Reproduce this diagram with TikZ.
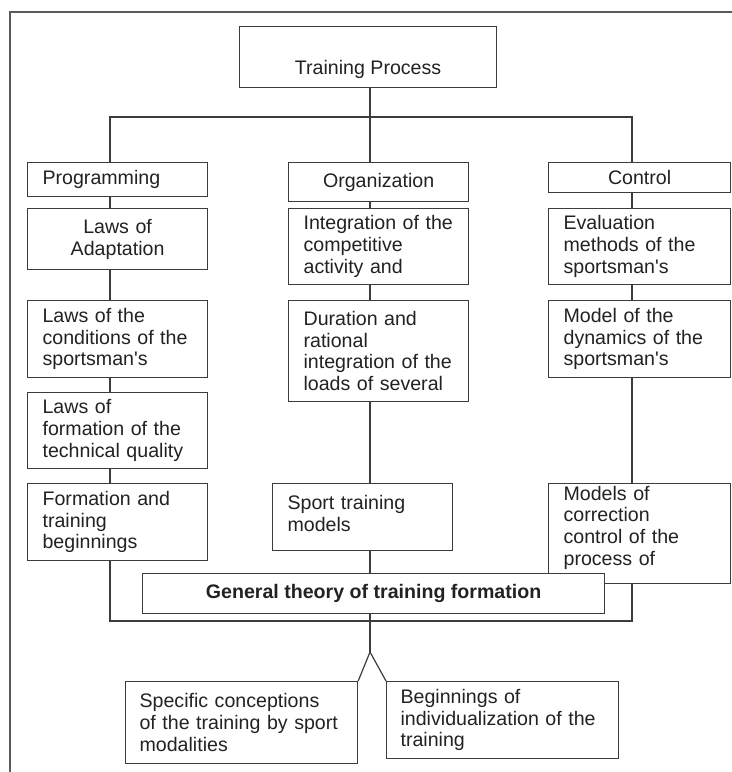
\documentclass[tikz,border=0pt]{standalone}
\usepackage{fontspec}
\setmainfont{Liberation Sans}
\definecolor{linegray}{HTML}{3C3C3C}
\definecolor{framegray}{HTML}{5A5A5A}
\definecolor{textgray}{HTML}{222222}
\newcommand\lowpad[1]{\rule[-#1]{0pt}{#1}}

\begin{document}
\begin{tikzpicture}[x=0.5pt, y=-0.5pt, line width=0.6pt, color=linegray,
      box/.style={draw=linegray, fill=white, anchor=north west,
        inner xsep=7.5pt, inner ysep=0pt, text=textgray,
        font=\fontsize{9.8}{10.85}\selectfont},
      narrow/.style={box, text width=75pt, minimum height=#1},
      wide/.style={box, text width=76pt, minimum height=#1},
      lowbox/.style={box, inner xsep=7pt, text width=102pt, minimum height=#1}]
      \useasboundingbox (0,0) rectangle (732,772);
      \draw[framegray] (10,772) -- (10,12) -- (732,12);

      \node[box, minimum width=128.5pt, minimum height=30.5pt,
        text height=17.5pt, text depth=0pt] (tp) at (239,26) {Training Process};

      \node[narrow=17pt, align=left] (prog) at (27,162) {Programming};
      \node[narrow=19.5pt, align=center] (org) at (288,162) {Organization};
      \node[wide=15pt, align=center] (ctrl) at (548,162) {Control};

      \node[narrow=30.5pt, align=center] (adapt) at (27,208) {Laws of\\Adaptation};
      \node[narrow=38pt, align=left] (integ) at (288,208) {Integration of the\\competitive\\activity and};
      \node[wide=38pt, align=left] (evalm) at (548,208) {Evaluation\\methods of the\\sportsman\textquotesingle s};

      \node[narrow=38.5pt, align=left] (cond) at (27,300) {Laws of the\\conditions of the\\sportsman\textquotesingle s};
      \node[narrow=50.5pt, align=left] (durat) at (288,300) {Duration and\\rational\\integration of the\\loads of several};
      \node[wide=38.5pt, align=left] (dynam) at (548,300) {Model of the\\dynamics of the\\sportsman\textquotesingle s};

      \node[narrow=38pt, align=left] (qual) at (27,392) {Laws of\\formation of the\\technical quality};

      \node[narrow=38.5pt, align=left] (beginn) at (27,483) {Formation and\\training\\beginnings};
      \node[narrow=33.5pt, align=left] (models) at (272,483) {Sport training\\models\lowpad{4pt}};
      \node[wide=50pt, align=left] (correc) at (548,483) {Models of\\correction\\control of the\\process of\lowpad{8pt}};

      \node[box, minimum width=231pt, minimum height=20pt,
        font=\fontsize{9.8}{10.85}\selectfont\bfseries] (gen) at (142,573) {General theory of training formation};

      \node[lowbox=41pt, align=left] (spec) at (125,681) {Specific conceptions\\of the training by sport\\modalities};
      \node[lowbox=38.5pt, align=left] (indiv) at (386,681) {Beginnings of\\individualization of the\\training};

      \coordinate (barL) at (110,117);
      \coordinate (barC) at (370,117);
      \coordinate (barR) at (632,117);
      \coordinate (brkL) at (110,621);
      \coordinate (brkR) at (632,621);
      \coordinate (apex) at (370,652);

      \draw (tp.south -| barC) -- (org.north -| barC);
      \draw (prog.north -| barL) -- (barL) -- (barR) -- (ctrl.north -| barR);

      \draw (prog.south -| barL) -- (adapt.north -| barL);
      \draw (adapt.south -| barL) -- (cond.north -| barL);
      \draw (cond.south -| barL) -- (qual.north -| barL);
      \draw (qual.south -| barL) -- (beginn.north -| barL);

      \draw (org.south -| barC) -- (integ.north -| barC);
      \draw (integ.south -| barC) -- (durat.north -| barC);
      \draw (durat.south -| barC) -- (models.north -| barC);

      \draw (ctrl.south -| barR) -- (evalm.north -| barR);
      \draw (evalm.south -| barR) -- (dynam.north -| barR);
      \draw (dynam.south -| barR) -- (correc.north -| barR);

      \draw (beginn.south -| barL) -- (brkL) -- (brkR) -- (correc.south -| barR);
      \draw (models.south -| barC) -- (gen.north -| barC);
      \draw (gen.south -| barC) -- (apex);
      \draw (spec.north east) -- (apex) -- (indiv.north west);
    \end{tikzpicture}
\end{document}
